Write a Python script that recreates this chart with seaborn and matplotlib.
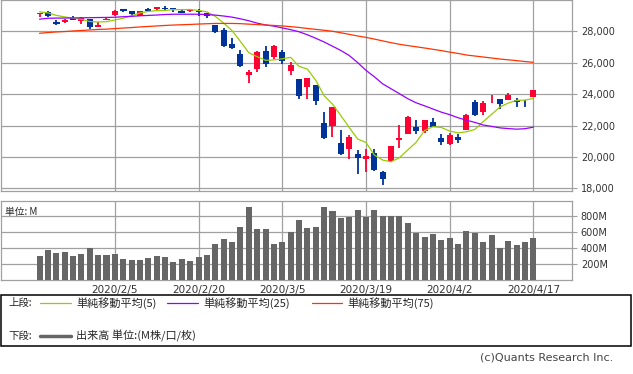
import matplotlib
matplotlib.use("Agg")
import matplotlib.pyplot as plt
import seaborn as sns
import numpy as np
import pandas as pd
from matplotlib.patches import Rectangle

# daily candles, 60 sessions (2020/1/23 - 2020/4/17)
opens = [29110, 29240, 28560, 28600, 28820, 28640, 28790, 28300, 28690, 29048,
         29390, 29300, 28990, 29390, 29390, 29470, 29470, 29270, 29270, 29320,
         29140, 28403, 28100, 27200, 26555, 25220, 25590, 26762, 26383, 26671,
         25457, 24992, 24453, 24604, 22184, 21973, 20917, 20490, 20181, 19863,
         20253, 19028, 19722, 21050, 21469, 21898, 21678, 22208, 21228, 20819,
         21285, 21693, 23500, 22890, 23660, 23659, 23656, 23600, 23590, 23787]
highs = [29190, 29300, 28720, 28800, 28944, 28890, 28810, 28590, 28930, 29330,
         29410, 29310, 29280, 29480, 29570, 29590, 29480, 29400, 29400, 29400,
         29160, 28403, 28190, 27560, 26810, 25530, 26720, 27084, 27100, 26800,
         26043, 24992, 25020, 24604, 22837, 23190, 21701, 21383, 20454, 20500,
         20531, 19122, 20705, 22019, 22595, 22327, 22378, 22480, 21470, 21500,
         21447, 22720, 23620, 23530, 23939, 23659, 24044, 23720, 23650, 24265]
lows = [28930, 28880, 28410, 28550, 28703, 28470, 28170, 28260, 28690, 29000,
        29250, 29030, 28960, 29200, 29380, 29320, 29240, 29150, 29260, 28990,
        28860, 27912, 26980, 26880, 25740, 24680, 25390, 25706, 26230, 25930,
        25226, 23706, 23690, 23328, 21154, 21285, 20116, 19880, 18917, 19009,
        19094, 18214, 19649, 20538, 21469, 21469, 21522, 21880, 20736, 20735,
        20863, 21693, 22600, 22680, 23417, 23073, 23656, 23190, 23200, 23787]
closes = [29160, 28990, 28536, 28723, 28734, 28859, 28256, 28400, 28808, 29291,
          29380, 29103, 29277, 29276, 29551, 29423, 29398, 29232, 29348, 29220,
          28992, 27961, 27081, 26958, 25767, 25409, 26703, 25917, 27091, 26121,
          25865, 23851, 25018, 23553, 21201, 23186, 20189, 21237, 19899, 20087,
          19174, 18592, 20705, 21200, 22552, 21637, 22327, 21917, 20944, 21413,
          21053, 22680, 22654, 23434, 23719, 23391, 23950, 23504, 23538, 24242]

# simple moving averages
ma5 = [29238, 29176, 29014, 28919, 28829, 28768, 28622, 28594, 28611, 28723,
       28827, 28996, 29172, 29265, 29317, 29326, 29385, 29376, 29390, 29324,
       29238, 28951, 28520, 28042, 27352, 26635, 26384, 26151, 26177, 26248,
       26339, 25769, 25589, 24882, 23898, 23362, 22629, 21873, 21142, 20920,
       20117, 19798, 19691, 19952, 20445, 20937, 21684, 21927, 21875, 21648,
       21531, 21601, 21749, 22247, 22708, 23176, 23430, 23600, 23620, 23725]
ma25 = [28770, 28830, 28840, 28845, 28850, 28860, 28867, 28877, 28883, 28896,
        28928, 28953, 28985, 29011, 29036, 29068, 29087, 29087, 29087, 29087,
        29062, 29030, 28972, 28902, 28794, 28672, 28519, 28404, 28328, 28213,
        28104, 27970, 27779, 27555, 27319, 27051, 26777, 26457, 26011, 25513,
        25104, 24651, 24338, 24025, 23706, 23445, 23253, 23049, 22851, 22691,
        22494, 22340, 22200, 22034, 21945, 21849, 21804, 21766, 21798, 21894]
ma75 = [27874, 27919, 27957, 27983, 28021, 28053, 28085, 28117, 28136, 28175,
        28206, 28238, 28277, 28308, 28340, 28372, 28398, 28417, 28436, 28462,
        28481, 28500, 28500, 28500, 28487, 28455, 28430, 28398, 28372, 28340,
        28296, 28245, 28181, 28123, 28066, 28002, 27906, 27804, 27702, 27613,
        27504, 27389, 27274, 27172, 27089, 27013, 26936, 26853, 26770, 26674,
        26591, 26489, 26426, 26362, 26298, 26234, 26183, 26132, 26074, 26023]

# volume in millions
volume = [304, 379, 341, 354, 304, 329, 404, 316, 316, 329,
          266, 254, 254, 279, 304, 292, 229, 266, 241, 292,
          316, 454, 516, 479, 666, 916, 641, 641, 454, 479,
          604, 754, 654, 666, 916, 866, 779, 791, 879, 791,
          879, 804, 804, 804, 716, 591, 541, 579, 504, 529,
          454, 616, 591, 479, 566, 400, 491, 441, 479, 529]

tick_pos = [9, 19, 29, 39, 49, 59]
tick_labels = ["2020/2/5", "2020/2/20", "2020/3/5", "2020/3/19", "2020/4/2", "2020/4/17"]
price_ticks = [18000, 20000, 22000, 24000, 26000, 28000]
vol_ticks = [200, 400, 600, 800]

df = pd.DataFrame({"open": opens, "high": highs, "low": lows, "close": closes,
                   "ma5": ma5, "ma25": ma25, "ma75": ma75, "volume": volume})
df["idx"] = np.arange(len(df))

sns.set_style("white")
plt.rcParams["font.family"] = ["DejaVu Sans", "Noto Sans CJK JP"]
cjk = ["Noto Sans CJK JP", "DejaVu Sans"]

UP = "#ff0033"
DOWN = "#003399"
GRID = "#a0a0a0"
XLIM = (-4.64, 63.58)

fig = plt.figure(figsize=(6.33, 3.74), dpi=100)
ax1 = fig.add_axes([0.0011, 0.4901, 0.9021, 0.5086])
ax2 = fig.add_axes([0.0011, 0.2505, 0.9021, 0.2120])

for ax in (ax1, ax2):
    ax.grid(True, color=GRID, lw=0.9)
    ax.set_axisbelow(True)
    for s in ax.spines.values():
        s.set_color(GRID)
        s.set_linewidth(0.9)
    ax.yaxis.tick_right()
    ax.tick_params(axis="y", length=3.5, color=GRID, labelsize=7, labelcolor="#333333", pad=3)
    ax.tick_params(axis="x", length=0)

# candles
for r in df.itertuples():
    col = UP if r.close >= r.open else DOWN
    ax1.vlines(r.idx, r.low, r.high, color=col, lw=1.3, zorder=3)
    h = abs(r.close - r.open)
    if h < 40:
        ax1.hlines((r.open + r.close) / 2, r.idx - 0.4, r.idx + 0.4, color=col, lw=1.5, zorder=3)
    else:
        ax1.bar(r.idx, h, bottom=min(r.open, r.close), width=0.72, color=col, lw=0, zorder=3)

sns.lineplot(data=df, x="idx", y="ma5", color="#99cc00", lw=0.9, ax=ax1, zorder=4)
sns.lineplot(data=df, x="idx", y="ma25", color="#9900ff", lw=0.9, ax=ax1, zorder=4)
sns.lineplot(data=df, x="idx", y="ma75", color="#ff3300", lw=0.9, ax=ax1, zorder=4)

ax1.set_xlim(*XLIM)
ax1.set_ylim(17848, 29962)
ax1.set_xticks(tick_pos)
ax1.set_xticklabels([])
ax1.set_yticks(price_ticks)
ax1.set_yticklabels([f"{v:,}" for v in price_ticks])
ax1.set_xlabel("")
ax1.set_ylabel("")

# volume
sns.barplot(data=df, x="idx", y="volume", native_scale=True, color="#666666",
            saturation=1, width=0.72, linewidth=0, ax=ax2, zorder=3)
ax2.set_xlim(*XLIM)
ax2.set_ylim(0, 991)
ax2.set_yticks(vol_ticks)
ax2.set_yticklabels([f"{v}M" for v in vol_ticks])
ax2.set_xticks(tick_pos)
ax2.set_xticklabels(tick_labels, fontsize=7.5, color="#333333")
ax2.tick_params(axis="x", pad=3.5)
ax2.set_xlabel("")
ax2.set_ylabel("")
ax2.text(0.007, 0.93, "単位: M", transform=ax2.transAxes, fontsize=7, va="top", family=cjk)

# legend box and credit, in pixel coordinates
ov = fig.add_axes([0, 0, 1, 1], facecolor="none")
ov.set_xlim(0, 633)
ov.set_ylim(374, 0)
ov.axis("off")
ov.add_patch(Rectangle((1, 295), 630, 51, fill=False, ec="black", lw=1.1))
ov.text(8, 303, "上段:", fontsize=7.5, va="center", family=cjk)
ov.plot([40, 71], [303, 303], color="#99cc00", lw=0.9)
ov.text(76, 303, "単純移動平均(5)", fontsize=8, va="center", family=cjk)
ov.plot([167, 198], [303, 303], color="#9900ff", lw=0.9)
ov.text(203, 303, "単純移動平均(25)", fontsize=8, va="center", family=cjk)
ov.plot([312, 342], [303, 303], color="#ff3300", lw=0.9)
ov.text(347, 303, "単純移動平均(75)", fontsize=8, va="center", family=cjk)
ov.text(8, 336, "下段:", fontsize=7.5, va="center", family=cjk)
ov.plot([40, 71], [336, 336], color="#666666", lw=2.5)
ov.text(76, 336, "出来高 単位:(M株/口/枚)", fontsize=8, va="center", family=cjk)
ov.text(613, 357, "(c)Quants Research Inc.", fontsize=8, ha="right", va="center",
        color="#444444", family=["Liberation Sans Narrow", "DejaVu Sans"])

fig.savefig("out.png", dpi=100)
